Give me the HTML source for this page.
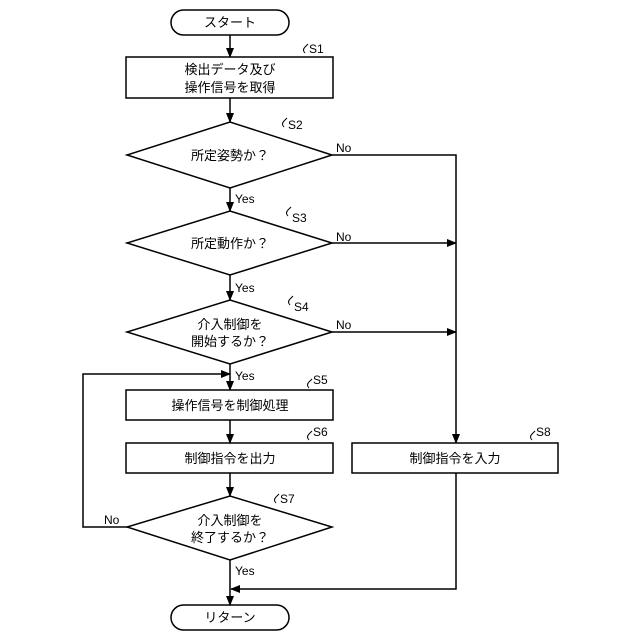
<html><body style="margin:0;background:#fff">
<svg width="640" height="640" xmlns="http://www.w3.org/2000/svg" style="font-family:'Liberation Sans','Noto Sans CJK JP',sans-serif">
<defs><marker id="a" markerWidth="10" markerHeight="10" refX="9" refY="5" orient="auto" markerUnits="userSpaceOnUse"><path d="M0,1 L10,5 L0,9 z" fill="#000"/></marker></defs>
<g fill="none" stroke="#000" stroke-width="1.5">
<rect x="171" y="10" width="118" height="25" rx="12.5"/>
<rect x="126" y="57" width="207" height="41"/>
<polygon points="127,155 230,122 332,155 230,188"/>
<polygon points="127,243 230,211 332,243 230,275"/>
<polygon points="127,332 230,300 332,332 230,364"/>
<rect x="126" y="390" width="207" height="30"/>
<rect x="126" y="443" width="207" height="30"/>
<polygon points="127,527 230,496 332,527 230,560"/>
<rect x="171" y="605" width="118" height="25" rx="12.5"/>
<rect x="352" y="443" width="206" height="30"/>
<g marker-end="url(#a)">
<line x1="230" y1="35" x2="230" y2="57"/>
<line x1="230" y1="98" x2="230" y2="122"/>
<line x1="230" y1="188" x2="230" y2="211"/>
<line x1="230" y1="275" x2="230" y2="300"/>
<line x1="230" y1="364" x2="230" y2="390"/>
<line x1="230" y1="420" x2="230" y2="443"/>
<line x1="230" y1="473" x2="230" y2="496"/>
<line x1="230" y1="560" x2="230" y2="605"/>
<polyline points="332,155 456,155 456,443"/>
<line x1="332" y1="243" x2="456" y2="243"/>
<line x1="332" y1="332" x2="456" y2="332"/>
<polyline points="456,473 456,589 231,589"/>
<polyline points="127,527 83,527 83,374 230,374"/>
</g>
<g stroke-width="1">
<path d="M305,53 q-3,-3 0,-6 l3,-3"/><path d="M284,127 q-3,-3 0,-6 l3,-3"/><path d="M288,216 q-3,-3 0,-6 l3,-3"/><path d="M290,305 q-3,-3 0,-6 l3,-3"/><path d="M309,388 q-3,-3 0,-6 l3,-3"/><path d="M309,440 q-3,-3 0,-6 l3,-3"/><path d="M276,503 q-3,-3 0,-6 l3,-3"/><path d="M532,440 q-3,-3 0,-6 l3,-3"/>
</g>
</g>
<g font-size="13" text-anchor="middle" fill="#000">
<text x="230" y="27">スタート</text>
<text x="230" y="74">検出データ及び</text><text x="230" y="92">操作信号を取得</text>
<text x="230" y="160">所定姿勢か？</text>
<text x="230" y="248">所定動作か？</text>
<text x="230" y="329">介入制御を</text><text x="230" y="346">開始するか？</text>
<text x="230" y="410">操作信号を制御処理</text>
<text x="230" y="463">制御指令を出力</text>
<text x="455" y="463">制御指令を入力</text>
<text x="230" y="525">介入制御を</text><text x="230" y="542">終了するか？</text>
<text x="230" y="622">リターン</text>
</g>
<g font-size="12" fill="#000">
<text x="309" y="53">S1</text><text x="288" y="129">S2</text><text x="292" y="222">S3</text><text x="294" y="311">S4</text><text x="313" y="384">S5</text><text x="313" y="436">S6</text><text x="280" y="503">S7</text><text x="536" y="436">S8</text>
<text x="336" y="152">No</text><text x="336" y="241">No</text><text x="336" y="329">No</text><text x="104" y="524">No</text>
<text x="235" y="203">Yes</text><text x="235" y="292">Yes</text><text x="235" y="380">Yes</text><text x="235" y="575">Yes</text>
</g>
</svg>
</body></html>
